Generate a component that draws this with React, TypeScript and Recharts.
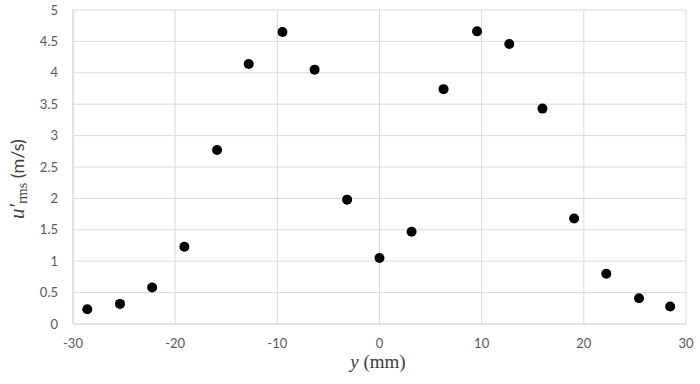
import { ScatterChart, Scatter, XAxis, YAxis, CartesianGrid } from 'recharts'

// traverse position y (mm) and rms velocity u'rms (m/s)
const yPositions = [-28.6, -25.4, -22.25, -19.1, -15.9, -12.8, -9.5, -6.35, -3.17, 0, 3.14, 6.27, 9.55, 12.7, 15.95, 19.05, 22.2, 25.4, 28.45]
const uRms = [0.235, 0.32, 0.58, 1.23, 2.77, 4.14, 4.65, 4.05, 1.98, 1.05, 1.47, 3.74, 4.66, 4.46, 3.43, 1.68, 0.8, 0.41, 0.28]

const xTicks = [-30, -20, -10, 0, 10, 20, 30]
const yTicks = [0, 0.5, 1, 1.5, 2, 2.5, 3, 3.5, 4, 4.5, 5]

const points = yPositions.map((y, i) => ({ y, u: uRms[i] }))

const GRID = '#d9d9d9'
const tickStyle = { fill: '#595959', fontSize: 13, fontFamily: 'Lato' }

const Dot = (props: any) => <circle cx={props.cx} cy={props.cy} r={5} fill="#000" />

export default function App() {
  return (
    <div style={{ position: 'absolute', left: 0, top: 0, width: 700, height: 384, background: '#fff' }}>
      <ScatterChart width={700} height={384} margin={{ top: 10, right: 14, bottom: 0, left: 0 }}>
        <CartesianGrid stroke={GRID} />
        <XAxis type="number" dataKey="y" domain={[-30, 30]} ticks={xTicks} height={60}
          axisLine={{ stroke: GRID }} tickLine={false} tickSize={0} tickMargin={15} tick={tickStyle} />
        <YAxis type="number" dataKey="u" domain={[0, 5]} ticks={yTicks} width={73}
          axisLine={{ stroke: GRID }} tickLine={false} tickSize={0} tickMargin={15} tick={tickStyle} />
        <Scatter data={points} shape={Dot} isAnimationActive={false} />
      </ScatterChart>
      <svg width={700} height={384} style={{ position: 'absolute', left: 0, top: 0, pointerEvents: 'none' }}>
        <text x={378} y={368} textAnchor="middle" fontFamily="Liberation Serif" fontSize={19} fill="#404040">
          <tspan fontStyle="italic">y</tspan> (mm)
        </text>
        <text transform="translate(24,179) rotate(-90)" textAnchor="middle" fill="#404040">
          <tspan fontFamily="Liberation Serif" fontStyle="italic" fontSize={21}>u′</tspan>
          <tspan fontFamily="Liberation Serif" fontSize={14} dy={3}>rms</tspan>
          <tspan fontFamily="Lato" fontSize={18} dy={-3}> (m/s)</tspan>
        </text>
      </svg>
    </div>
  )
}
